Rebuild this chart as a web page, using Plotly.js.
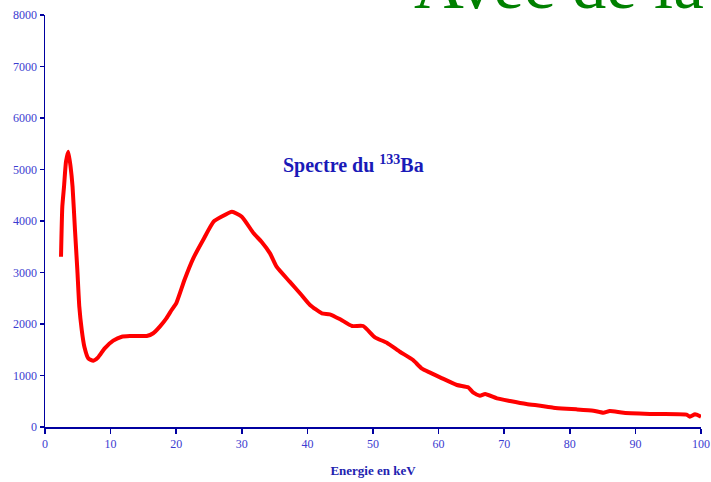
<!DOCTYPE html>
<html>
<head>
<meta charset="utf-8">
<script src="https://cdn.plot.ly/plotly-3.0.1.min.js"></script>
<style>html,body{margin:0;padding:0;background:#fff;}#chart{width:711px;height:482px;}</style>
</head>
<body>
<div id="chart"></div>
<script>
var energy = [2.44, 2.64, 2.9, 3.2, 3.55, 3.9, 4.2, 4.57, 4.93, 5.23, 5.6, 6.0, 6.6, 7.36, 8.1, 9.1, 10.4, 11.7, 13.0, 14.5, 15.5, 16.5, 17.5, 18.5, 19.3, 20.0, 21.3, 22.6, 24.1, 25.7, 26.9, 28.5, 30.0, 31.8, 33.0, 34.3, 35.3, 37.3, 39.1, 40.4, 42.2, 43.4, 45.0, 46.8, 48.5, 50.3, 52.1, 54.1, 56.1, 57.4, 58.7, 60.3, 62.8, 64.5, 65.3, 66.3, 67.1, 68.9, 70.9, 73.4, 75.5, 77.5, 79.5, 81.0, 83.6, 85.1, 86.1, 88.2, 93.2, 97.8, 98.3, 99.1, 100.0];
var counts = [3306, 4278, 4666, 5152, 5346, 5055, 4666, 3825, 3049, 2336, 1883, 1559, 1333, 1288, 1353, 1528, 1676, 1753, 1765, 1767, 1767, 1820, 1950, 2110, 2272, 2400, 2870, 3275, 3631, 3987, 4083, 4181, 4083, 3761, 3598, 3372, 3113, 2822, 2563, 2369, 2207, 2188, 2091, 1961, 1961, 1741, 1637, 1462, 1301, 1139, 1055, 960, 816, 770, 666, 608, 641, 557, 505, 447, 414, 375, 355, 343, 317, 278, 311, 278, 252, 239, 200, 246, 200];
var xTicks = [0, 10, 20, 30, 40, 50, 60, 70, 80, 90, 100];
var yTicks = [0, 1000, 2000, 3000, 4000, 5000, 6000, 7000, 8000];
var chartTitle = "Spectre du <sup>133</sup>Ba";
var bigText = "Avec de la";
var xTitle = "Energie en keV";

var serif = "Liberation Serif, Times New Roman, serif";

var trace = {
  x: energy, y: counts, type: 'scatter', mode: 'lines',
  line: {color: '#ff0000', width: 4, shape: 'spline', smoothing: 0.5},
  hoverinfo: 'skip'
};

var layout = {
  width: 711, height: 482,
  margin: {l: 45, r: 10, t: 15, b: 55, pad: 0},
  paper_bgcolor: '#ffffff', plot_bgcolor: '#ffffff',
  showlegend: false,
  xaxis: {
    range: [0, 100], tickvals: xTicks, ticktext: xTicks.map(String),
    showgrid: false, zeroline: false, showline: true, linecolor: '#0000a0', linewidth: 1.5,
    ticks: 'outside', ticklen: 5, tickcolor: '#0000a0', tickwidth: 1.5,
    tickfont: {family: serif, size: 12, color: '#3b3bd0'},
    title: {text: '<b>' + xTitle + '</b>', font: {family: serif, size: 13, color: '#2222b0'}, standoff: 16}
  },
  yaxis: {
    range: [0, 8000], tickvals: yTicks, ticktext: yTicks.map(String),
    showgrid: false, zeroline: false, showline: true, linecolor: '#0000a0', linewidth: 1.5,
    ticks: 'outside', ticklen: 4, tickcolor: '#0000a0', tickwidth: 1.5,
    tickfont: {family: serif, size: 12, color: '#3b3bd0'}
  },
  annotations: [
    {text: '<b>' + chartTitle + '</b>', xref: 'paper', yref: 'paper',
     x: (353 - 45) / 656, y: (427 - 165) / 412, xanchor: 'center', yanchor: 'middle',
     showarrow: false, font: {family: serif, size: 20, color: '#1a1ab8'}},
    {text: bigText, xref: 'paper', yref: 'paper',
     x: 1.008, y: (427 - 25) / 412, xanchor: 'right', yanchor: 'bottom',
     showarrow: false, font: {family: serif, size: 69, color: '#008000'}}
  ]
};

Plotly.newPlot('chart', [trace], layout, {staticPlot: true, displayModeBar: false});
</script>
</body>
</html>
